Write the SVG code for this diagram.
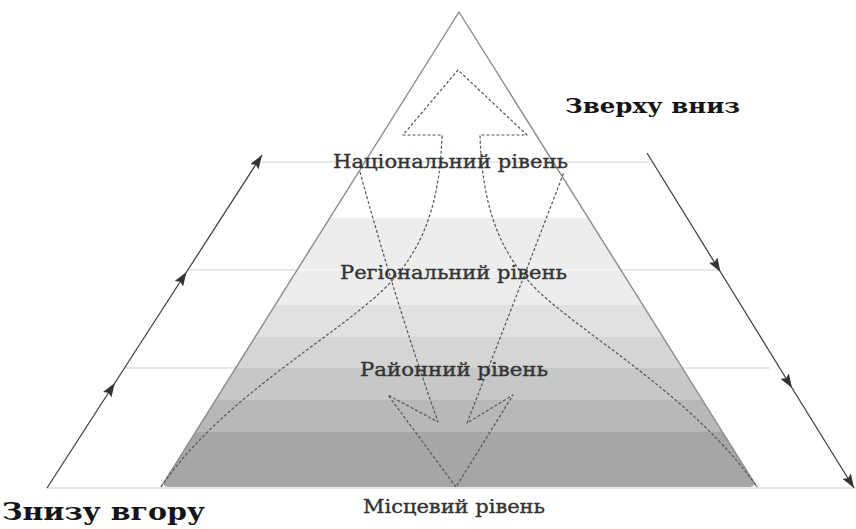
<svg xmlns="http://www.w3.org/2000/svg" width="856" height="529" viewBox="0 0 856 529">
  <style>
    .guide { stroke: #e0e0e0; stroke-width: 1.3; fill: none; }
    .edge { stroke: #8a8a8a; stroke-width: 1.4; fill: none; stroke-linejoin: round; }
    .flow { stroke: #555; stroke-width: 1.2; fill: none; stroke-dasharray: 3 2; stroke-linejoin: round; }
    .side { stroke: #444; stroke-width: 1.3; fill: none; }
    .level { font-family: "DejaVu Serif", "Liberation Serif", serif; font-size: 18px; fill: #333; stroke: #333; stroke-width: 0.35; text-anchor: middle; }
    .head { font-family: "DejaVu Serif", "Liberation Serif", serif; font-weight: bold; fill: #151515; }
  </style>
  <defs>
    <marker id="tri" markerUnits="userSpaceOnUse" markerWidth="15" markerHeight="10" refX="14" refY="5" orient="auto">
      <path d="M0,0 L14,5 L0,10 L2.5,5 Z" fill="#333"/>
    </marker>
    <clipPath id="pyr-clip">
      <path d="M459,12 L752.7,480.2 Q757,487 749,487 L169,487 Q161,487 165.3,480.2 Z"/>
    </clipPath>
  </defs>

  <rect width="856" height="529" fill="#fff"/>

  <!-- horizontal level guides -->
  <g id="guides">
    <line class="guide" x1="262" y1="162" x2="648" y2="162"/>
    <line class="guide" x1="187" y1="270" x2="718" y2="270"/>
    <line class="guide" x1="125" y1="368" x2="770" y2="368"/>
    <line class="guide" x1="47" y1="488" x2="856" y2="488"/>
  </g>

  <!-- pyramid with shaded bands -->
  <g id="pyramid">
    <g clip-path="url(#pyr-clip)">
      <rect x="150" y="218" width="620" height="87" fill="#ededed"/>
      <rect x="150" y="305" width="620" height="32" fill="#e1e1e1"/>
      <rect x="150" y="337" width="620" height="31" fill="#d5d5d5"/>
      <rect x="150" y="368" width="620" height="32" fill="#c7c7c7"/>
      <rect x="150" y="400" width="620" height="32" fill="#b8b8b8"/>
      <rect x="150" y="432" width="620" height="56" fill="#a6a6a6"/>
      <line x1="150" y1="270" x2="770" y2="270" stroke="#f6f6f6" stroke-width="1.5"/>
    </g>
    <path class="edge" d="M161,487 L459,12 L757,487"/>
  </g>

  <!-- flow arrows -->
  <g id="connectors">
    <!-- bottom-up: wide shaft narrowing to a head near the apex -->
    <path class="flow" d="M161,487 C220,400 330,340 383,290 C425,250 440,200 442,135 L403,135 L458,70 L527,135 L480,135 C482,200 496,250 537,290 C585,336 695,398 757,487"/>
    <!-- top-down: shaft from the national level to a head at the base -->
    <path class="flow" d="M360,172 Q395,300 438,422 L388,395 L456,487 L513,395 L467,423 Q515,300 564,172"/>
    <!-- side arrows -->
    <polyline class="side" points="47,488 114.8,383 186.5,272 262,155" marker-mid="url(#tri)" marker-end="url(#tri)"/>
    <polyline class="side" points="647,153 720.5,272 792,388 854,488" marker-mid="url(#tri)" marker-end="url(#tri)"/>
  </g>

  <g id="level-national"><text class="level" x="450.5" y="168" textLength="235" lengthAdjust="spacingAndGlyphs">Національний рівень</text></g>
  <g id="level-regional"><text class="level" x="453.5" y="279" textLength="227" lengthAdjust="spacingAndGlyphs">Регіональний рівень</text></g>
  <g id="level-district"><text class="level" x="454" y="376" textLength="188" lengthAdjust="spacingAndGlyphs">Районний рівень</text></g>
  <g id="level-local"><text class="level" x="454" y="513" textLength="182" lengthAdjust="spacingAndGlyphs">Місцевий рівень</text></g>

  <g id="label-top-down"><text class="head" x="565" y="113" font-size="21" textLength="175" lengthAdjust="spacingAndGlyphs">Зверху вниз</text></g>
  <g id="label-bottom-up"><text class="head" x="2" y="520" font-size="24" textLength="203" lengthAdjust="spacingAndGlyphs">Знизу вгору</text></g>
</svg>
